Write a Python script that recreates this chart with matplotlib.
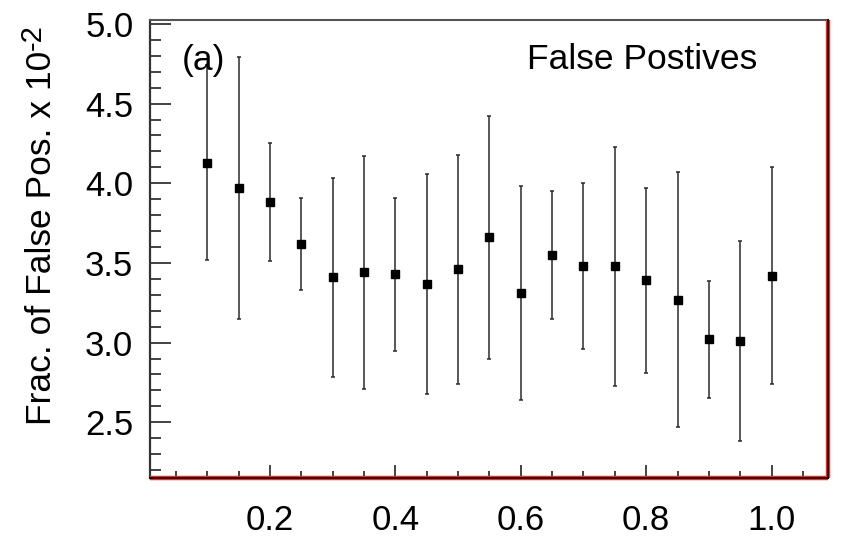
import matplotlib
matplotlib.use("Agg")
import matplotlib.pyplot as plt
from matplotlib.ticker import MultipleLocator, FormatStrFormatter

plt.rcParams['font.family'] = ['Liberation Sans', 'DejaVu Sans']

# data
x_vals = [0.10, 0.15, 0.20, 0.25, 0.30, 0.35, 0.40, 0.45, 0.50, 0.55,
          0.60, 0.65, 0.70, 0.75, 0.80, 0.85, 0.90, 0.95, 1.00]
frac_fp = [4.13, 3.97, 3.88, 3.62, 3.41, 3.44, 3.43, 3.37, 3.46, 3.66,
           3.31, 3.55, 3.48, 3.48, 3.39, 3.27, 3.02, 3.01, 3.42]
err_fp = [0.61, 0.82, 0.37, 0.29, 0.625, 0.73, 0.48, 0.69, 0.72, 0.76,
          0.67, 0.40, 0.52, 0.75, 0.58, 0.80, 0.365, 0.625, 0.68]
x_ticks = [0.2, 0.4, 0.6, 0.8, 1.0]
y_label_main = "Frac. of False Pos. x 10"
y_label_exp = "-2"
panel_label = "(a)"
title_text = "False Postives"

fig = plt.figure(figsize=(8.43, 5.36), dpi=100)
ax = fig.add_axes([150/843, 1-478/536, (828-150)/843, (478-20)/536])

ax.errorbar(x_vals, frac_fp, yerr=err_fp, fmt='s', color='black',
            ecolor='#2a2a2a', elinewidth=1.1, capsize=1.6, capthick=1.1,
            markersize=6, zorder=3)

ax.set_xlim(0.0086, 1.090)
ax.set_ylim(2.15, 5.025)

ax.set_xticks(x_ticks)
ax.xaxis.set_minor_locator(MultipleLocator(0.05))
ax.yaxis.set_major_locator(MultipleLocator(0.5))
ax.yaxis.set_minor_locator(MultipleLocator(0.1))
ax.xaxis.set_major_formatter(FormatStrFormatter('%.1f'))
ax.yaxis.set_major_formatter(FormatStrFormatter('%.1f'))

ax.tick_params(axis='y', which='major', direction='in', length=15, width=1.2,
               labelsize=25, pad=12, color='#222222')
ax.tick_params(axis='y', which='minor', direction='in', length=8, width=1.2,
               color='#222222')
ax.tick_params(axis='x', which='major', direction='in', length=9.5, width=1.2,
               labelsize=25, pad=19, color='#222222')
ax.tick_params(axis='x', which='minor', direction='in', length=4.7, width=1.2,
               color='#222222')

ax.spines['left'].set_color('#333333')
ax.spines['left'].set_linewidth(1.6)
ax.spines['top'].set_color('#555555')
ax.spines['top'].set_linewidth(1.5)
for s in ['right', 'bottom']:
    ax.spines[s].set_color('#1a0000')
    ax.spines[s].set_linewidth(1.3)
    ax.spines[s].set_zorder(5)
# red halo on right and bottom frame
ax.plot([0, 1], [0, 0], transform=ax.transAxes, color='#e03030', lw=3.2,
        clip_on=False, zorder=4, solid_capstyle='butt')
ax.plot([1, 1], [0, 1], transform=ax.transAxes, color='#e03030', lw=3.2,
        clip_on=False, zorder=4, solid_capstyle='butt')

ax.text(0.047, 0.891, panel_label, transform=ax.transAxes, fontsize=25.5,
        ha='left', va='baseline')
ax.text(0.556, 0.893, title_text, transform=ax.transAxes, fontsize=25.5,
        ha='left', va='baseline')

# y label with superscript (hyphen as in reference)
W, H = 843, 536
t_main = fig.text(42/W, 1-425/H, y_label_main, rotation=90, fontsize=25.5,
                  ha='center', va='bottom')
fig.canvas.draw()
bb = t_main.get_window_extent(renderer=fig.canvas.get_renderer())
fig.text((bb.x0 - 7)/W, (bb.y1 + 1)/H, y_label_exp, rotation=90,
         fontsize=21, ha='left', va='bottom')

fig.savefig('out.png', dpi=100)
